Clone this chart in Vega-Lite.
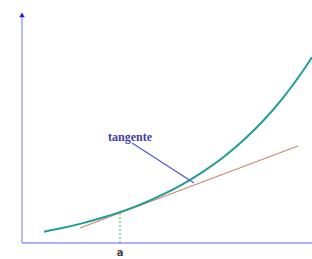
{
  "$schema": "https://vega.github.io/schema/vega-lite/v6.json",
  "width": 312,
  "height": 259,
  "autosize": "none",
  "padding": 0,
  "background": "white",
  "config": {"view": {"stroke": null}},
  "layer": [
    {
      "data": {"values": [
        {"x1": 0, "y1": 0, "x2": 290, "y2": 0},
        {"x1": 0, "y1": 0, "x2": 0, "y2": 230}
      ]},
      "mark": {"type": "rule", "color": "#9494ff", "strokeWidth": 1.3},
      "encoding": {
        "x": {"field": "x1", "type": "quantitative", "scale": {"domain": [-22, 290], "nice": false, "zero": false}, "axis": null},
        "x2": {"field": "x2"},
        "y": {"field": "y1", "type": "quantitative", "scale": {"domain": [-16, 243], "nice": false, "zero": false}, "axis": null},
        "y2": {"field": "y2"}
      }
    },
    {
      "data": {"values": [{"x": 0, "y": 228}]},
      "mark": {"type": "point", "shape": "triangle-up", "filled": true, "color": "#1a1aff", "size": 30, "opacity": 1},
      "encoding": {
        "x": {"field": "x", "type": "quantitative"},
        "y": {"field": "y", "type": "quantitative"}
      }
    },
    {
      "data": {"values": [{"x1": 98, "y1": 0, "x2": 98, "y2": 31}]},
      "mark": {"type": "rule", "color": "#33bb33", "strokeWidth": 1, "strokeDash": [2, 2]},
      "encoding": {
        "x": {"field": "x1", "type": "quantitative"},
        "x2": {"field": "x2"},
        "y": {"field": "y1", "type": "quantitative"},
        "y2": {"field": "y2"}
      }
    },
    {
      "data": {"values": [{"x1": 58, "y1": 15, "x2": 276, "y2": 97}]},
      "mark": {"type": "rule", "color": "#c98a6c", "strokeWidth": 1.3},
      "encoding": {
        "x": {"field": "x1", "type": "quantitative"},
        "x2": {"field": "x2"},
        "y": {"field": "y1", "type": "quantitative"},
        "y2": {"field": "y2"}
      }
    },
    {
      "data": {"values": [
        {"x": 22, "y": 11.3}, {"x": 40, "y": 14.95}, {"x": 60, "y": 19.65}, {"x": 80, "y": 25.17},
        {"x": 100, "y": 31.6}, {"x": 120, "y": 39.2}, {"x": 140, "y": 48.05}, {"x": 160, "y": 58.4},
        {"x": 180, "y": 70.6}, {"x": 200, "y": 84.8}, {"x": 220, "y": 101.5}, {"x": 240, "y": 121.0},
        {"x": 260, "y": 143.9}, {"x": 280, "y": 170.7}, {"x": 290, "y": 185.7}
      ]},
      "mark": {"type": "line", "color": "#1f9e96", "strokeWidth": 2, "interpolate": "monotone"},
      "encoding": {
        "x": {"field": "x", "type": "quantitative"},
        "y": {"field": "y", "type": "quantitative"}
      }
    },
    {
      "data": {"values": [{"x1": 110, "y1": 100, "x2": 172, "y2": 60}]},
      "mark": {"type": "rule", "color": "#5a5ad0", "strokeWidth": 1.3},
      "encoding": {
        "x": {"field": "x1", "type": "quantitative"},
        "x2": {"field": "x2"},
        "y": {"field": "y1", "type": "quantitative"},
        "y2": {"field": "y2"}
      }
    },
    {
      "data": {"values": [{"x": 108, "y": 106, "label": "tangente"}]},
      "mark": {"type": "text", "font": "Liberation Serif", "fontSize": 12, "fontWeight": "bold", "color": "#4040a8", "align": "center", "baseline": "middle"},
      "encoding": {
        "x": {"field": "x", "type": "quantitative"},
        "y": {"field": "y", "type": "quantitative"},
        "text": {"field": "label"}
      }
    },
    {
      "data": {"values": [{"x": 98, "y": -13, "label": "a"}]},
      "mark": {"type": "text", "font": "DejaVu Sans", "fontSize": 10, "fontWeight": "bold", "color": "#444444", "align": "center", "baseline": "alphabetic"},
      "encoding": {
        "x": {"field": "x", "type": "quantitative"},
        "y": {"field": "y", "type": "quantitative"},
        "text": {"field": "label"}
      }
    }
  ]
}
